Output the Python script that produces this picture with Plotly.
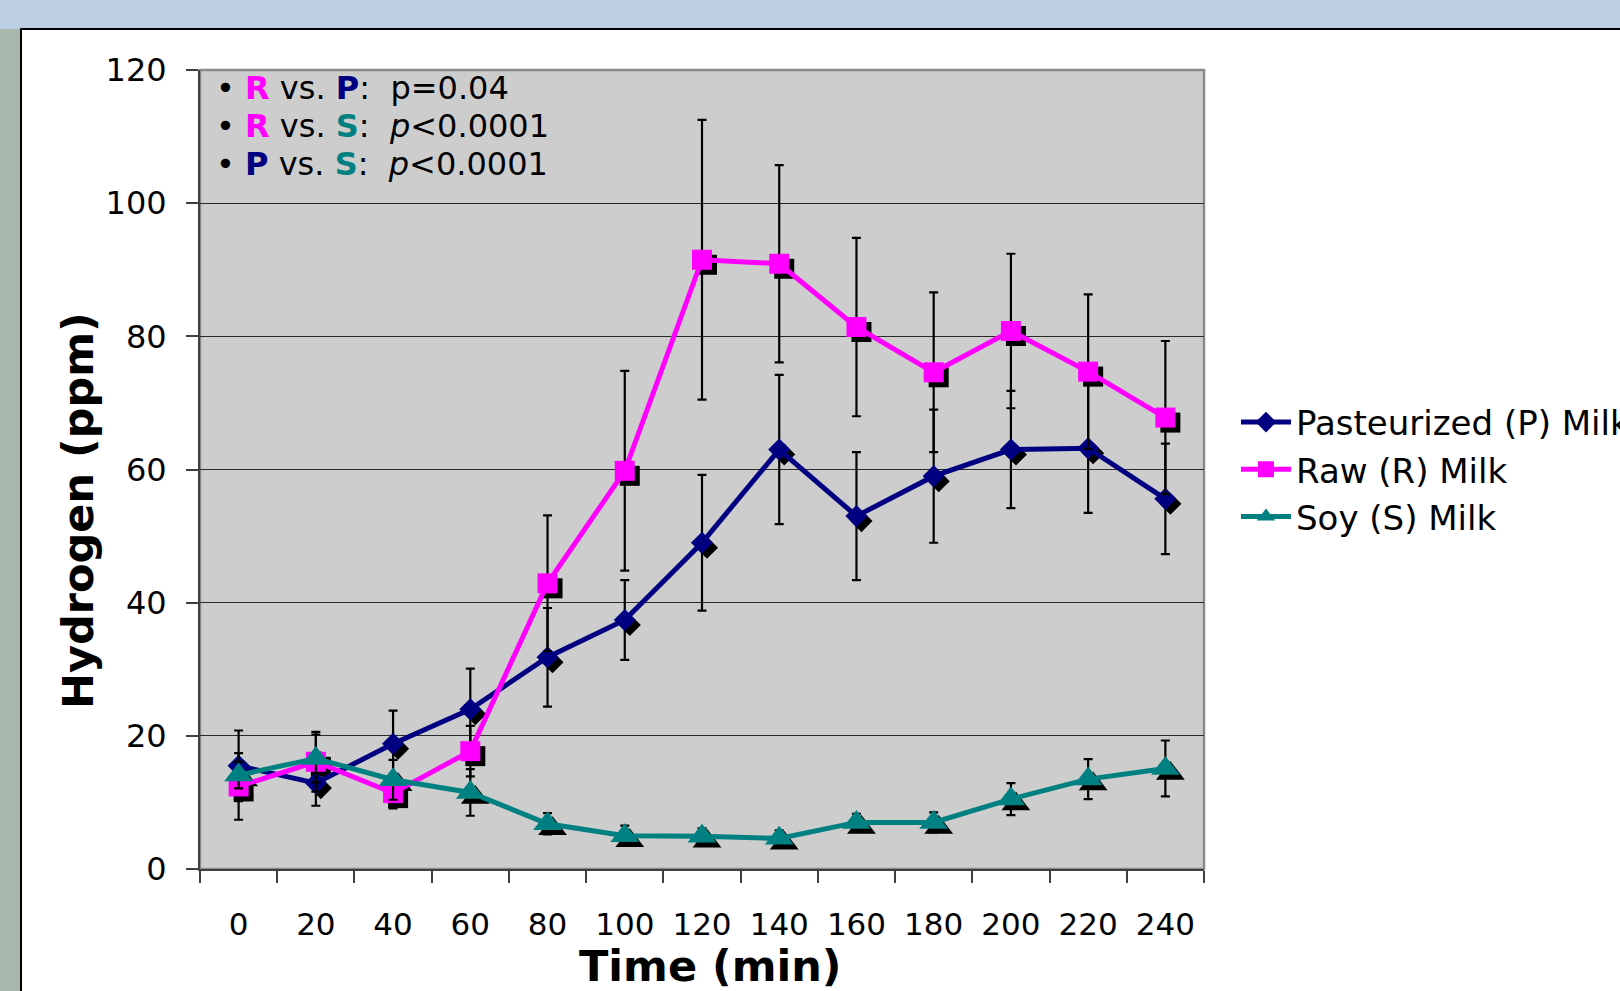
import plotly.graph_objects as go

# ---------------- data ----------------
times = [0, 20, 40, 60, 80, 100, 120, 140, 160, 180, 200, 220, 240]
tick_labels = [str(t) for t in times]

past = [15.5, 12.9, 18.8, 24.0, 31.8, 37.4, 49.0, 63.0, 53.0, 59.0, 63.0, 63.2, 55.6]
past_err = [5.3, 3.4, 5.0, 6.1, 7.4, 6.0, 10.2, 11.2, 9.6, 10.0, 8.8, 9.7, 8.3]

raw = [12.4, 16.1, 11.4, 17.7, 42.9, 59.8, 91.5, 90.9, 81.4, 74.6, 80.8, 74.7, 67.8]
raw_err = [5.0, 4.5, 2.3, 3.8, 10.2, 15.0, 21.0, 14.8, 13.4, 12.0, 11.6, 11.6, 11.5]

soy = [14.1, 16.6, 13.4, 11.5, 6.8, 5.0, 4.9, 4.6, 7.0, 7.0, 10.5, 13.5, 15.1]
soy_err = [2.0, 3.6, 3.0, 3.5, 1.6, 1.5, 1.2, 1.2, 1.3, 1.5, 2.4, 3.0, 4.2]

series_names = ["Pasteurized (P) Milk", "Raw (R) Milk", "Soy (S) Milk"]
y_ticks = [0, 20, 40, 60, 80, 100, 120]

# ---------------- style ----------------
NAVY = "#000080"
MAGENTA = "#FF00FF"
TEAL = "#008080"
FONT = "DejaVu Sans"

W, H = 1620, 991
L, R, T, B = 200, 1204, 70, 869  # plot area in px
pw, ph = R - L, B - T
XR = [-10, 250]
YR = [0, 120]
shift_px = 5
dx = shift_px * (XR[1] - XR[0]) / pw
dy = shift_px * (YR[1] - YR[0]) / ph

def px(xp):
    return (xp - L) / pw

def py(yp):
    return (B - yp) / ph

series = [
    (series_names[0], past, past_err, NAVY, "diamond", 17),
    (series_names[1], raw, raw_err, MAGENTA, "square", 20),
    (series_names[2], soy, soy_err, TEAL, "triangle-up", 25),
]

fig = go.Figure()

# shadows (base axes, shifted ranges)
for name, vals, err, col, sym, sz in series:
    fig.add_trace(go.Scatter(
        x=times, y=vals, mode="markers", xaxis="x", yaxis="y",
        marker=dict(symbol=sym, size=sz, color="black", line=dict(width=0)),
        showlegend=False, hoverinfo="skip"))

# main series (overlay axes)
for name, vals, err, col, sym, sz in series:
    fig.add_trace(go.Scatter(
        x=times, y=vals, name=name, mode="lines+markers",
        xaxis="x2", yaxis="y2", legendgroup=name,
        line=dict(color=col, width=5),
        marker=dict(symbol=sym, size=sz, color=col, line=dict(width=0)),
        error_y=dict(type="data", array=err, visible=True,
                     color="black", thickness=2.2, width=4.5)))

shapes = [
    # background strip on the left
    dict(type="rect", xref="paper", yref="paper", x0=px(-5), x1=px(21), y0=py(1000), y1=py(29),
         fillcolor="#A7B7AB", line=dict(width=0), layer="below"),
    # white panel
    dict(type="rect", xref="paper", yref="paper", x0=px(21), x1=px(1640), y0=py(1010), y1=py(29),
         fillcolor="white", line=dict(color="black", width=2), layer="below"),
    # plot area
    dict(type="rect", xref="paper", yref="paper", x0=0, x1=1, y0=0, y1=1,
         fillcolor="#CDCDCD", line=dict(color="#8A8A8A", width=2.5), layer="below"),
]

stat_lines = [
    f"• <b><span style='color:{MAGENTA}'>R</span></b> vs. <b><span style='color:{NAVY}'>P</span></b>:  p=0.04",
    f"• <b><span style='color:{MAGENTA}'>R</span></b> vs. <b><span style='color:{TEAL}'>S</span></b>:  <i>p</i>&lt;0.0001",
    f"• <b><span style='color:{NAVY}'>P</span></b> vs. <b><span style='color:{TEAL}'>S</span></b>:  <i>p</i>&lt;0.0001",
]
stat_y = [88, 126, 164]

annotations = []
for txt, yy in zip(stat_lines, stat_y):
    annotations.append(dict(text=txt, xref="paper", yref="paper", x=px(214), y=py(yy),
                            xanchor="left", yanchor="middle", showarrow=False,
                            font=dict(family=FONT, size=32, color="black")))

annotations.append(dict(text="<b>Hydrogen (ppm)</b>", xref="paper", yref="paper",
                        x=px(78), y=py(511), textangle=-90, xanchor="center", yanchor="middle",
                        showarrow=False, font=dict(family=FONT, size=43, color="black")))
annotations.append(dict(text="<b>Time (min)</b>", xref="paper", yref="paper",
                        x=px(710), y=py(966), xanchor="center", yanchor="middle",
                        showarrow=False, font=dict(family=FONT, size=43, color="black")))

fig.update_layout(
    width=W, height=H, autosize=False,
    margin=dict(l=L, r=W - R, t=T, b=H - B, pad=0, autoexpand=False),
    paper_bgcolor="#BDD0E3",
    plot_bgcolor="rgba(0,0,0,0)",
    font=dict(family=FONT, size=32, color="black"),
    shapes=shapes,
    annotations=annotations,
    showlegend=True,
    legend=dict(x=px(1236), y=0.5, xanchor="left", yanchor="middle",
                bgcolor="rgba(0,0,0,0)", borderwidth=0,
                font=dict(family=FONT, size=34, color="black"),
                itemwidth=50, tracegroupgap=0, traceorder="normal"),
    xaxis=dict(range=[XR[0] - dx, XR[1] - dx], visible=False, fixedrange=True),
    yaxis=dict(range=[YR[0] + dy, YR[1] + dy], visible=False, fixedrange=True),
    xaxis2=dict(overlaying="x", anchor="y2", range=XR, side="bottom",
                tickmode="array", tickvals=times, ticktext=tick_labels,
                ticks="outside", ticklen=0, ticklabelstandoff=27,
                tickfont=dict(family=FONT, size=31, color="black"),
                showgrid=False, zeroline=False, fixedrange=True,
                showline=True, linecolor="#404040", linewidth=2,
                minor=dict(tickmode="array",
                           tickvals=[t - 10 for t in times] + [times[-1] + 10],
                           ticks="outside", ticklen=12, tickcolor="#404040", tickwidth=1.5,
                           showgrid=False)),
    yaxis2=dict(overlaying="y", anchor="x2", range=YR, side="left",
                tickmode="array", tickvals=y_ticks, fixedrange=True,
                ticks="outside", ticklen=12, tickcolor="#404040", tickwidth=1.5,
                ticklabelstandoff=13,
                tickfont=dict(family=FONT, size=32, color="black"),
                showgrid=True, gridcolor="#2A2A2A", gridwidth=1,
                zeroline=False, showline=True, linecolor="#404040", linewidth=2),
)

fig.write_html("out.html", config={"displayModeBar": False},
               post_script="document.body.style.margin='0';document.body.style.overflow='hidden';")
